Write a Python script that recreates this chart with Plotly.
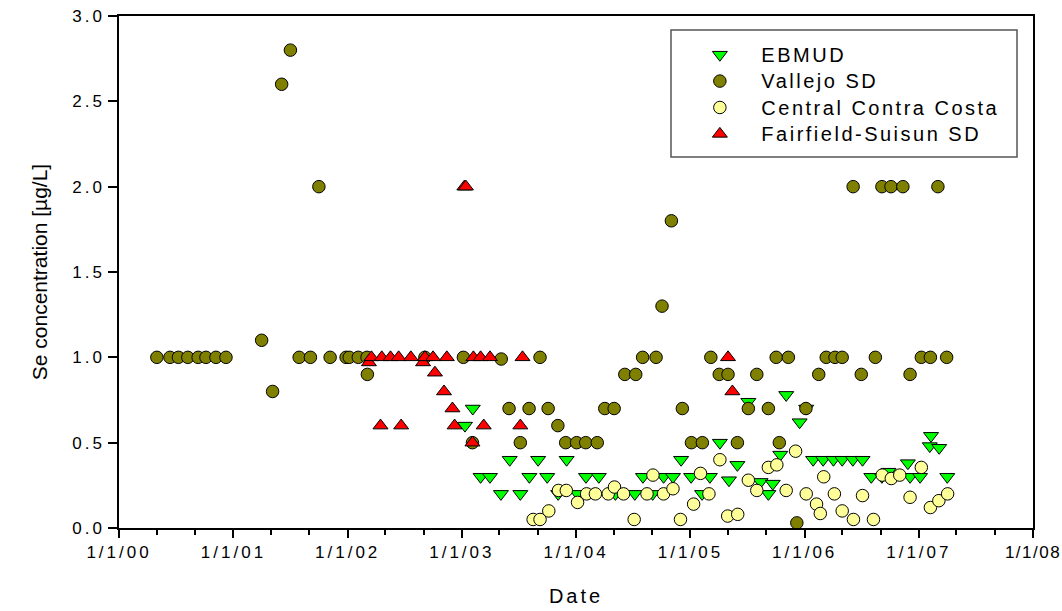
import pandas as pd
import plotly.graph_objects as go

# ---------------- data ----------------
ebmud_dates = ["2003-02-05", "2003-01-11", "2003-03-02", "2003-04-01", "2003-05-06", "2003-06-03",
               "2003-07-07", "2003-08-05", "2003-09-02", "2003-10-01", "2003-11-05", "2003-12-02",
               "2004-01-06", "2004-02-02", "2004-03-14", "2004-05-06", "2004-07-07", "2004-08-02",
               "2004-09-02", "2004-10-07", "2004-11-06", "2004-12-02", "2005-01-03", "2005-02-07",
               "2005-03-04", "2005-04-05", "2005-05-04", "2005-05-31", "2005-07-05", "2005-08-13",
               "2005-09-07", "2005-09-21", "2005-10-15", "2005-11-03", "2005-12-16", "2006-01-06",
               "2006-01-28", "2006-03-01", "2006-04-03", "2006-05-01", "2006-06-04", "2006-07-05",
               "2006-08-02", "2006-09-05", "2006-09-26", "2006-11-27", "2006-12-04", "2007-01-05",
               "2007-02-05", "2007-02-09", "2007-03-07", "2007-04-02"]
ebmud_se = [0.70, 0.60, 0.30, 0.30, 0.20, 0.40,
            0.20, 0.30, 0.40, 0.30, 0.20, 0.40,
            0.20, 0.30, 0.30, 0.20, 0.20, 0.30,
            0.20, 0.30, 0.30, 0.40, 0.30, 0.20,
            0.30, 0.50, 0.28, 0.37, 0.74, 0.27,
            0.20, 0.26, 0.43, 0.78, 0.62, 0.70,
            0.40, 0.40, 0.40, 0.40, 0.40, 0.40,
            0.30, 0.30, 0.33, 0.38, 0.30, 0.30,
            0.48, 0.54, 0.47, 0.30]

vallejo_dates = ["2000-05-01", "2000-06-12", "2000-07-09", "2000-08-08", "2000-09-10", "2000-10-05",
                 "2000-11-06", "2000-12-08", "2001-04-01", "2001-05-06", "2001-06-04", "2001-07-02",
                 "2001-10-01", "2001-07-30", "2001-09-04", "2001-11-06", "2001-12-27", "2002-01-06",
                 "2002-02-04", "2002-03-04", "2002-03-05", "2002-09-05", "2003-01-06", "2003-05-07",
                 "2003-09-08", "2003-06-01", "2003-08-04", "2003-10-04", "2003-11-04", "2003-07-07",
                 "2003-11-29", "2004-01-03", "2004-02-01", "2004-03-09", "2003-02-04", "2004-04-02",
                 "2004-05-02", "2004-06-05", "2004-07-10", "2004-08-01", "2004-09-13", "2004-10-02",
                 "2004-11-01", "2004-12-06", "2005-01-04", "2005-02-08", "2005-03-07", "2005-04-03",
                 "2005-05-01", "2005-05-31", "2005-07-05", "2005-08-01", "2005-09-07", "2005-10-02",
                 "2005-11-10", "2005-10-12", "2005-12-07", "2006-01-05", "2006-02-15", "2006-03-11",
                 "2006-04-08", "2006-05-01", "2006-06-05", "2006-07-01", "2006-08-15", "2006-09-05",
                 "2006-10-04", "2006-11-11", "2006-12-04", "2007-01-09", "2007-02-07", "2007-03-03",
                 "2007-03-31"]
vallejo_se = [1.0, 1.0, 1.0, 1.0, 1.0, 1.0,
              1.0, 1.0, 1.1, 0.8, 2.6, 2.8,
              2.0, 1.0, 1.0, 1.0, 1.0, 1.0,
              1.0, 1.0, 0.9, 1.0, 1.0, 0.99,
              1.0, 0.7, 0.7, 0.7, 0.6, 0.5,
              0.5, 0.5, 0.5, 0.5, 0.5, 0.7,
              0.7, 0.9, 0.9, 1.0, 1.0, 1.3,
              1.8, 0.7, 0.5, 0.5, 1.0, 0.9,
              0.9, 0.5, 0.7, 0.9, 0.7, 1.0,
              1.0, 0.5, 0.03, 0.7, 0.9, 1.0,
              1.0, 1.0, 2.0, 0.9, 1.0, 2.0,
              2.0, 2.0, 0.9, 1.0, 1.0, 2.0,
              1.0]

ccc_dates = ["2003-08-17", "2003-09-08", "2003-10-06", "2003-11-06", "2003-12-01", "2004-01-06",
             "2004-02-04", "2004-03-03", "2004-04-13", "2004-05-03", "2004-06-01", "2004-07-05",
             "2004-08-15", "2004-09-03", "2004-10-07", "2004-11-06", "2004-11-30", "2005-01-11",
             "2005-02-02", "2005-03-01", "2005-04-05", "2005-04-30", "2005-06-01", "2005-07-05",
             "2005-08-01", "2005-09-07", "2005-10-04", "2005-11-03", "2005-12-03", "2006-01-06",
             "2006-02-08", "2006-02-20", "2006-03-03", "2006-04-06", "2006-05-01", "2006-06-06",
             "2006-07-05", "2006-08-09", "2006-09-06", "2006-10-05", "2006-11-01", "2006-12-04",
             "2007-01-09", "2007-02-07", "2007-03-06", "2007-04-03"]
ccc_se = [0.05, 0.05, 0.10, 0.22, 0.22, 0.15,
          0.20, 0.20, 0.20, 0.24, 0.20, 0.05,
          0.20, 0.31, 0.20, 0.23, 0.05, 0.14,
          0.32, 0.20, 0.40, 0.07, 0.08, 0.28,
          0.22, 0.355, 0.37, 0.22, 0.45, 0.20,
          0.14, 0.085, 0.30, 0.20, 0.10, 0.05,
          0.19, 0.05, 0.31, 0.29, 0.31, 0.18,
          0.355, 0.12, 0.16, 0.20]

fs_dates = ["2002-03-10", "2002-03-18", "2002-04-16", "2002-04-20", "2002-05-18", "2002-06-13",
            "2002-06-21", "2002-07-22", "2002-08-30", "2002-09-05", "2002-10-01", "2002-10-07",
            "2002-11-05", "2002-11-14", "2002-12-02", "2002-12-09", "2003-01-09", "2003-01-14",
            "2003-02-04", "2003-02-07", "2003-03-02", "2003-03-12", "2003-04-01", "2003-07-07",
            "2003-07-14", "2005-05-01", "2005-05-15"]
fs_se = [0.97, 1.0, 0.6, 1.0, 1.0, 1.0,
         0.6, 1.0, 0.97, 1.0, 1.0, 0.91,
         0.8, 1.0, 0.7, 0.6, 2.0, 2.0,
         0.5, 1.0, 1.0, 0.6, 1.0, 0.6,
         1.0, 1.0, 0.8]

x_tick_dates = ["2000-01-01", "2001-01-01", "2002-01-01", "2003-01-01", "2004-01-01",
                "2005-01-01", "2006-01-01", "2007-01-01", "2008-01-01"]
x_tick_labels = ["1/1/00", "1/1/01", "1/1/02", "1/1/03", "1/1/04",
                 "1/1/05", "1/1/06", "1/1/07", "1/1/08"]
y_tick_vals = [0.0, 0.5, 1.0, 1.5, 2.0, 2.5, 3.0]
y_tick_labels = ["0.0", "0.5", "1.0", "1.5", "2.0", "2.5", "3.0"]

# ---------------- figure ----------------
FONT = "Arial, 'Liberation Sans', sans-serif"
outline = dict(color="black", width=1)

series = [
    ("EBMUD", ebmud_dates, ebmud_se, "triangle-down", "#00FF00", 13),
    ("Vallejo SD", vallejo_dates, vallejo_se, "circle", "#808000", 12.5),
    ("Central Contra Costa", ccc_dates, ccc_se, "circle", "#FFFF99", 12.5),
    ("Fairfield-Suisun SD", fs_dates, fs_se, "triangle-up", "#FF0000", 13),
]

fig = go.Figure()
for name, d, v, sym, col, size in series:
    fig.add_trace(go.Scatter(
        x=pd.to_datetime(d), y=v, mode="markers", name=name,
        marker=dict(symbol=sym, color=col, size=size, line=outline),
    ))

fig.update_layout(
    width=1062, height=611,
    margin=dict(l=119, r=29, t=16, b=83),
    paper_bgcolor="white", plot_bgcolor="white",
    font=dict(family=FONT, size=17, color="black"),
    showlegend=True,
    legend=dict(x=0.612, y=0.960, xanchor="left", yanchor="top",
                bgcolor="rgba(0,0,0,0)", borderwidth=0,
                font=dict(family=FONT, size=18, color="black"),
                traceorder="normal", itemwidth=73),
    shapes=[dict(type="rect", xref="paper", yref="paper",
                 x0=(671 - 119) / 914, x1=(1017 - 119) / 914,
                 y0=(528 - 157) / 512, y1=(528 - 30) / 512,
                 line=dict(color="#555555", width=1.5), fillcolor="rgba(0,0,0,0)", layer="below")],
)

fig.update_xaxes(
    type="date", automargin=False,
    range=["2000-01-01", "2008-01-01"],
    tickmode="array", tickvals=pd.to_datetime(x_tick_dates), ticktext=x_tick_labels,
    ticks="outside", ticklen=8, tickwidth=1.5, tickcolor="black",
    minor=dict(ticks="outside", ticklen=5, tickwidth=1.5, tickcolor="black",
               dtick="M4", tick0="2000-01-01"),
    showline=True, linecolor="black", linewidth=1.5, mirror=True,
    showgrid=False, zeroline=False,
    tickfont=dict(family=FONT, size=17),
    title=dict(text="Date", font=dict(family=FONT, size=20), standoff=28),
)
fig.update_yaxes(
    range=[0, 3.0], automargin=False,
    tickmode="array", tickvals=y_tick_vals, ticktext=y_tick_labels,
    ticks="outside", ticklen=9, tickwidth=1.5, tickcolor="black",
    showline=True, linecolor="black", linewidth=1.5, mirror=True,
    showgrid=False, zeroline=False,
    tickfont=dict(family=FONT, size=17),
    title=dict(text="Se concentration [µg/L]", font=dict(family=FONT, size=21), standoff=28),
)

# the reference uses widely tracked lettering; reproduce it with CSS letter-spacing
post = (
    "var s=document.createElement('style');"
    "s.textContent='.xtick text, .ytick text{letter-spacing:3px} "
    ".xaxislayer-above .xtick:last-child text{letter-spacing:1.5px} "
    ".legend text.legendtext{letter-spacing:2.5px; font-size:20px !important} "
    ".legend, .legend g, .legend .scrollbox{clip-path:none !important} "
    ".g-xtitle text{letter-spacing:3px}';"
    "document.head.appendChild(s);"
)

fig.write_html("out.html", post_script=post)
